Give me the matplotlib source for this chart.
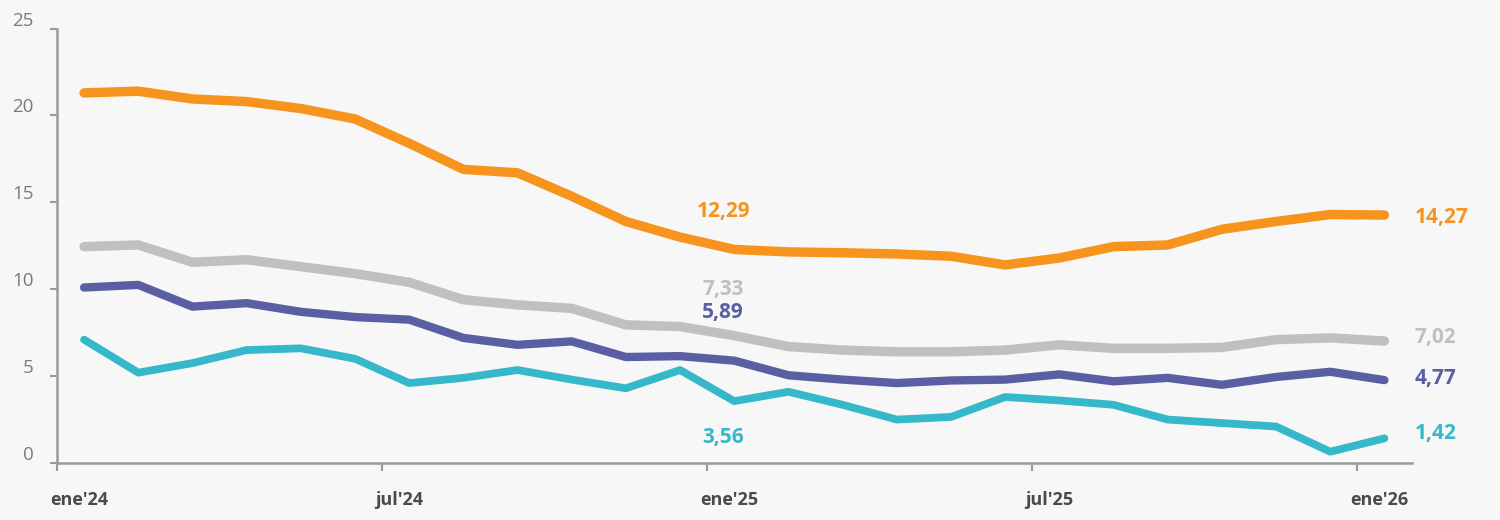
import matplotlib as mpl
mpl.use('Agg')
import matplotlib.pyplot as plt
import matplotlib.transforms as mtransforms
import numpy as np

plt.rcParams['font.family'] = ['Open Sans', 'DejaVu Sans']

# monthly points, ene'24 .. ene'26
months = np.arange(25) + 0.5
naranja = [21.3, 21.4, 20.95, 20.8, 20.4, 19.8, 18.4, 16.9, 16.7, 15.35, 13.9, 13.0, 12.29,
           12.15, 12.1, 12.03, 11.9, 11.4, 11.8, 12.45, 12.55, 13.45, 13.9, 14.3, 14.27]
gris = [12.45, 12.55, 11.55, 11.7, 11.3, 10.9, 10.4, 9.4, 9.1, 8.9, 7.95, 7.85, 7.33,
        6.7, 6.5, 6.4, 6.4, 6.5, 6.8, 6.6, 6.6, 6.65, 7.1, 7.2, 7.02]
morado = [10.1, 10.25, 9.0, 9.2, 8.7, 8.4, 8.25, 7.2, 6.8, 7.0, 6.1, 6.15, 5.89,
          5.05, 4.8, 4.6, 4.75, 4.8, 5.1, 4.7, 4.9, 4.5, 4.95, 5.25, 4.77]
celeste = [7.1, 5.2, 5.75, 6.5, 6.6, 6.0, 4.6, 4.9, 5.35, 4.8, 4.3, 5.35, 3.56,
           4.1, 3.35, 2.5, 2.65, 3.8, 3.6, 3.35, 2.5, 2.3, 2.1, 0.65, 1.42]

tick_pos = [0, 6, 12, 18, 24]
tick_labels = ["ene'24", "jul'24", "ene'25", "jul'25", "ene'26"]

bg = '#f7f7f7'
series = [
    (naranja, '#f7941d', 6.8, (-11, 38), (30, -2)),
    (gris, '#c0c0c0', 6.8, (-11, 46), (30, 4)),
    (morado, '#5a5ea3', 6.0, (-11, 48), (30, 2)),
    (celeste, '#35b8ca', 5.6, (-11, -36), (30, 5)),
]

fig = plt.figure(figsize=(15, 5.2), dpi=100, facecolor=bg)
ax = fig.add_axes([0.038, 0.1096, 0.903, 0.8354], facecolor=bg)

for vals, col, lw, off_mid, off_end in series:
    ax.plot(months, vals, color=col, lw=lw, solid_joinstyle='round',
            solid_capstyle='round', zorder=3)
    for i, off in ((12, off_mid), (24, off_end)):
        ha = 'center' if i == 12 else 'left'
        ax.annotate(f'{vals[i]:.2f}'.replace('.', ','), (months[i], vals[i]),
                    xytext=off, textcoords='offset pixels', ha=ha, va='center',
                    color=col, fontsize=15, fontweight='bold')

ax.set_xlim(0, 25)
ax.set_ylim(0, 25)
ax.set_yticks(range(0, 26, 5))
ax.set_xticks(tick_pos)
ax.set_xticklabels(tick_labels)

for s in ['top', 'right']:
    ax.spines[s].set_visible(False)
for s in ['left', 'bottom']:
    ax.spines[s].set_color('#9a9a9a')
    ax.spines[s].set_linewidth(1.8)

ax.tick_params(axis='y', length=5, width=1.5, color='#9a9a9a', labelcolor='#7a7a7a',
               labelsize=13.5, pad=12)
ax.tick_params(axis='x', length=6, width=1.5, color='#9a9a9a', labelcolor='#4a4a4a',
               labelsize=13, pad=14)
for lab in ax.get_xticklabels():
    lab.set_fontweight('bold')
    lab.set_horizontalalignment('left')
    lab.set_transform(lab.get_transform() + mtransforms.ScaledTranslation(-7 / 100, 0, fig.dpi_scale_trans))
for lab in ax.get_yticklabels():
    lab.set_transform(lab.get_transform() + mtransforms.ScaledTranslation(0, 10 / 100, fig.dpi_scale_trans))

fig.savefig('out.png', dpi=100, facecolor=bg)
